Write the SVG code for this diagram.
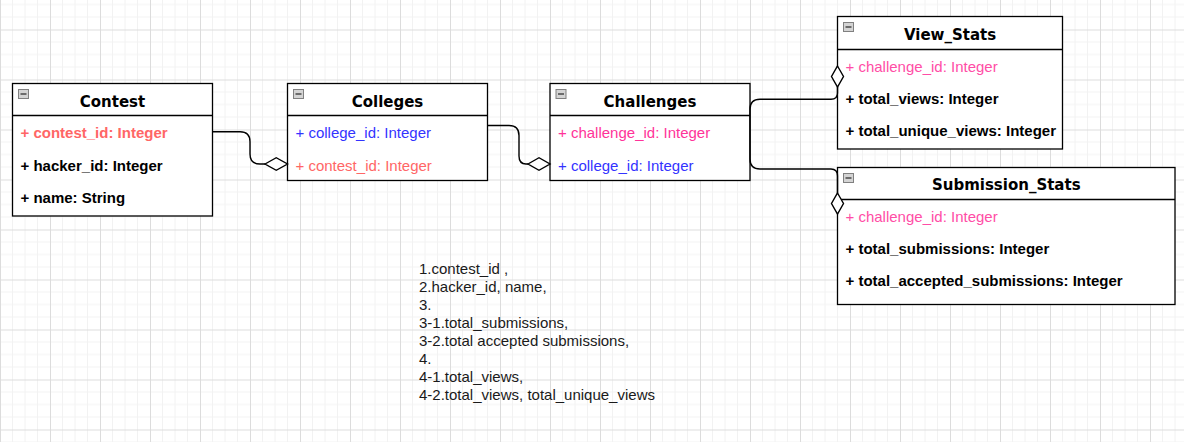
<svg xmlns="http://www.w3.org/2000/svg" width="1184" height="442" viewBox="0 0 1184 442">
<style>
.box{fill:#fff;stroke:#000;stroke-width:1.3}
.sep{stroke:#000;stroke-width:1.3}
.title{font-family:"DejaVu Sans",sans-serif;font-weight:bold;font-size:15px;fill:#000;text-anchor:middle}
.attr{font-family:"Liberation Sans",Arial,sans-serif;font-size:15px}
.b{font-weight:bold;fill:#000}
.red{fill:#FF6666}
.blue{fill:#3333FF}
.pink{fill:#FF3399}
.pink2{fill:#FF4DA6}
.icon{fill:#d4d4d4;stroke:#808080;stroke-width:1}
.iconm{stroke:#333;stroke-width:1.3}
.conn{fill:none;stroke:#000;stroke-width:1.4}
.dia{fill:#fff;stroke:#000;stroke-width:1.4}
.note{font-family:"Liberation Sans",Arial,sans-serif;font-size:15px;fill:#1a1a1a}
</style>
<defs>
<pattern id="grid" width="50" height="50" patternUnits="userSpaceOnUse" x="0" y="29.5">
<path d="M12.5 0V50M25 0V50M37.5 0V50M0 12.5H50M0 25H50M0 37.5H50" stroke="#f2f2f2" stroke-width="1" fill="none"/>
<path d="M0.5 0V50M0 0.5H50" stroke="#dcdcdc" stroke-width="1" fill="none"/>
</pattern>
</defs>
<rect width="1184" height="442" fill="#fff"/>
<rect width="1184" height="442" fill="url(#grid)"/>

<g id="contest">
<rect class="box" x="12.5" y="83.5" width="200" height="132.5"/>
<line class="sep" x1="12.5" y1="115.5" x2="212.5" y2="115.5"/>
<rect class="icon" x="18.5" y="89.5" width="10" height="9"/>
<line class="iconm" x1="20.5" y1="94" x2="26.5" y2="94"/>
<text class="title" x="112.5" y="106.5">Contest</text>
<text class="attr b red" x="20.5" y="137.7" style="fill:#FF6666">+ contest_id: Integer</text>
<text class="attr b" x="20.5" y="170.7">+ hacker_id: Integer</text>
<text class="attr b" x="20.5" y="202.7">+ name: String</text>
</g>

<g id="colleges">
<rect class="box" x="287.5" y="83.5" width="200" height="97"/>
<line class="sep" x1="287.5" y1="115.5" x2="487.5" y2="115.5"/>
<rect class="icon" x="293.5" y="89.5" width="10" height="9"/>
<line class="iconm" x1="295.5" y1="94" x2="301.5" y2="94"/>
<text class="title" x="387.5" y="106.5">Colleges</text>
<text class="attr blue" x="295.5" y="137.5">+ college_id: Integer</text>
<text class="attr red" x="295.5" y="170.7">+ contest_id: Integer</text>
</g>

<g id="challenges">
<rect class="box" x="550" y="83.5" width="200" height="97"/>
<line class="sep" x1="550" y1="115.5" x2="750" y2="115.5"/>
<rect class="icon" x="556" y="89.5" width="10" height="9"/>
<line class="iconm" x1="558" y1="94" x2="564" y2="94"/>
<text class="title" x="650" y="106.5">Challenges</text>
<text class="attr pink" x="558" y="137.5">+ challenge_id: Integer</text>
<text class="attr blue" x="558" y="170.7">+ college_id: Integer</text>
</g>

<g id="view_stats">
<rect class="box" x="837.5" y="16.5" width="225" height="132.5"/>
<line class="sep" x1="837.5" y1="49.5" x2="1062.5" y2="49.5"/>
<rect class="icon" x="843.5" y="22.5" width="10" height="9"/>
<line class="iconm" x1="845.5" y1="27" x2="851.5" y2="27"/>
<text class="title" x="950" y="39.5">View_Stats</text>
<text class="attr pink2" x="845.5" y="72.3">+ challenge_id: Integer</text>
<text class="attr b" x="845.5" y="104.3">+ total_views: Integer</text>
<text class="attr b" x="845.5" y="136.3">+ total_unique_views: Integer</text>
</g>

<g id="submission_stats">
<rect class="box" x="837.5" y="167.5" width="337.5" height="137"/>
<line class="sep" x1="837.5" y1="199.5" x2="1175" y2="199.5"/>
<rect class="icon" x="843.5" y="173.5" width="10" height="9"/>
<line class="iconm" x1="845.5" y1="178" x2="851.5" y2="178"/>
<text class="title" x="1006.25" y="189.5">Submission_Stats</text>
<text class="attr pink2" x="845.5" y="222.3">+ challenge_id: Integer</text>
<text class="attr b" x="845.5" y="254.3">+ total_submissions: Integer</text>
<text class="attr b" x="845.5" y="286.3">+ total_accepted_submissions: Integer</text>
</g>

<g id="connectors">
<path class="conn" d="M212.5,131.7 L240,131.7 Q250,131.7 250,141.7 L250,154 Q250,164 260,164 L265,164"/>
<polygon class="dia" points="265,164 276.25,157.75 287.5,164 276.25,170.25"/>
<path class="conn" d="M487.5,125.5 L509,125.5 Q519,125.5 519,135.5 L519,156 Q519,164 526,164 L528,164"/>
<polygon class="dia" points="528,164 539,157.75 550,164 539,170.25"/>
<path class="conn" d="M750,131 L750,109.3 Q750,99.3 760,99.3 L831,99.3 Q837.5,99.3 837.5,93 L837.5,87"/>
<polygon class="dia" points="837.5,66 843.5,76.5 837.5,87 831.5,76.5"/>
<path class="conn" d="M750,131 L750,159 Q750,169 760,169 L831,169 Q837.5,169 837.5,176 L837.5,193"/>
<polygon class="dia" points="837.5,193 843.5,203.5 837.5,214 831.5,203.5"/>
</g>

<g id="note">
<text class="note" x="419" y="273.5">1.contest_id ,</text>
<text class="note" x="419" y="291.5">2.hacker_id, name,</text>
<text class="note" x="419" y="309.5">3.</text>
<text class="note" x="419" y="327.5">3-1.total_submissions,</text>
<text class="note" x="419" y="345.5">3-2.total accepted submissions,</text>
<text class="note" x="419" y="363.5">4.</text>
<text class="note" x="419" y="381.5">4-1.total_views,</text>
<text class="note" x="419" y="399.5">4-2.total_views, total_unique_views</text>
</g>
</svg>
